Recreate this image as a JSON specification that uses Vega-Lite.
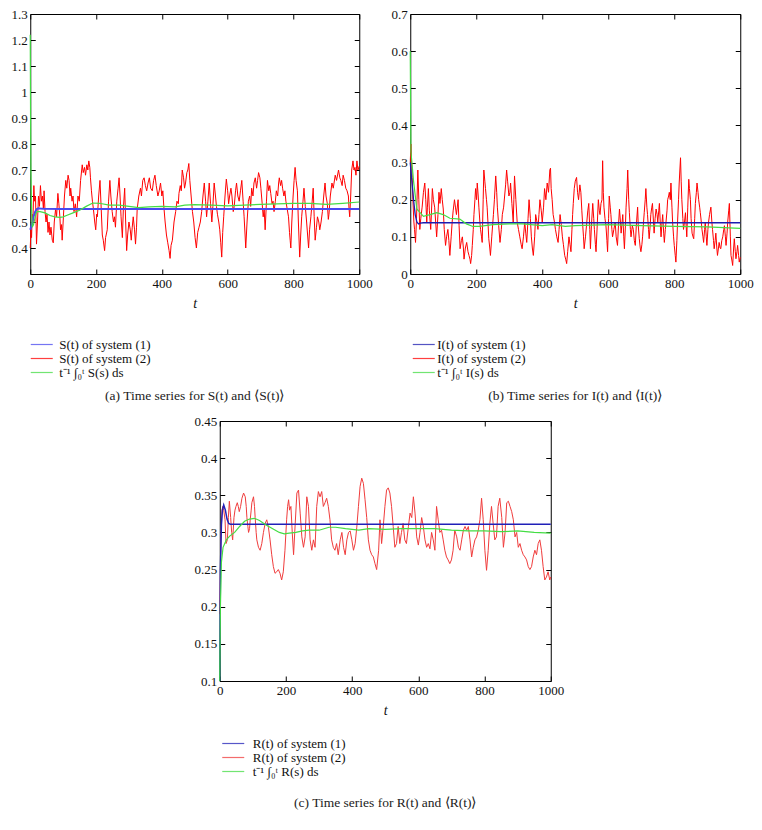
{
"$schema":"https://vega.github.io/schema/vega-lite/v6.json",
"padding":{"left":10,"top":7,"right":5,"bottom":5},
"config":{
"font":"Liberation Serif",
"view":{"stroke":"#000","strokeWidth":1},
"axis":{"domain":false,"grid":false,"tickSize":-5,"tickColor":"#000","tickWidth":1,"labelFont":"Liberation Serif","labelFontSize":13,"labelColor":"#111","labelPadding":8,"titleFont":"Liberation Serif","titleFontStyle":"italic","titleFontWeight":"normal","titleFontSize":14,"titleColor":"#111"},
"legend":{"orient":"none","title":null,"symbolType":"M-5.5,0H5.5","symbolSize":16,"symbolStrokeWidth":1.2,"symbolOpacity":0.75,"labelFont":"Liberation Serif","labelFontSize":13,"labelColor":"#111","labelOffset":11,"rowPadding":-2,"direction":"vertical"},
"title":{"orient":"bottom","anchor":"middle","frame":"group","font":"Liberation Serif","fontSize":13.5,"fontWeight":"normal","color":"#222","offset":9}
},
"datasets":{
"a":[
{"s":"2","t":0,"v":0.40},{"s":"2","t":2,"v":0.47},{"s":"2","t":4,"v":0.44},{"s":"2","t":6,"v":0.53},{"s":"2","t":8,"v":0.5},{"s":"2","t":11,"v":0.64},{"s":"2","t":13,"v":0.58},{"s":"2","t":16,"v":0.6},{"s":"2","t":19,"v":0.415},{"s":"2","t":22,"v":0.5},{"s":"2","t":25,"v":0.6},{"s":"2","t":28,"v":0.56},{"s":"2","t":31,"v":0.64},{"s":"2","t":34,"v":0.58},{"s":"2","t":37,"v":0.6},{"s":"2","t":40,"v":0.55},{"s":"2","t":42,"v":0.62},{"s":"2","t":45,"v":0.54},{"s":"2","t":48,"v":0.5},{"s":"2","t":51,"v":0.53},{"s":"2","t":54,"v":0.46},{"s":"2","t":57,"v":0.5},{"s":"2","t":60,"v":0.45},{"s":"2","t":63,"v":0.48},{"s":"2","t":67,"v":0.43},{"s":"2","t":70,"v":0.42},{"s":"2","t":73,"v":0.5},{"s":"2","t":77,"v":0.55},{"s":"2","t":80,"v":0.52},{"s":"2","t":84,"v":0.61},{"s":"2","t":87,"v":0.57},{"s":"2","t":90,"v":0.52},{"s":"2","t":92,"v":0.47},{"s":"2","t":95,"v":0.49},{"s":"2","t":97,"v":0.43},{"s":"2","t":100,"v":0.5},{"s":"2","t":104,"v":0.6},{"s":"2","t":108,"v":0.66},{"s":"2","t":111,"v":0.63},{"s":"2","t":115,"v":0.68},{"s":"2","t":118,"v":0.66},{"s":"2","t":121,"v":0.6},{"s":"2","t":123,"v":0.63},{"s":"2","t":127,"v":0.58},{"s":"2","t":130,"v":0.6},{"s":"2","t":133,"v":0.54},{"s":"2","t":137,"v":0.57},{"s":"2","t":141,"v":0.52},{"s":"2","t":145,"v":0.6},{"s":"2","t":149,"v":0.58},{"s":"2","t":153,"v":0.66},{"s":"2","t":158,"v":0.72},{"s":"2","t":161,"v":0.69},{"s":"2","t":165,"v":0.71},{"s":"2","t":168,"v":0.68},{"s":"2","t":172,"v":0.72},{"s":"2","t":175,"v":0.70},{"s":"2","t":178,"v":0.735},{"s":"2","t":181,"v":0.71},{"s":"2","t":183,"v":0.67},{"s":"2","t":186,"v":0.62},{"s":"2","t":189,"v":0.58},{"s":"2","t":192,"v":0.55},{"s":"2","t":196,"v":0.5},{"s":"2","t":199,"v":0.47},{"s":"2","t":202,"v":0.53},{"s":"2","t":204,"v":0.52},{"s":"2","t":208,"v":0.6},{"s":"2","t":212,"v":0.66},{"s":"2","t":215,"v":0.57},{"s":"2","t":219,"v":0.45},{"s":"2","t":222,"v":0.43},{"s":"2","t":226,"v":0.39},{"s":"2","t":229,"v":0.44},{"s":"2","t":234,"v":0.47},{"s":"2","t":238,"v":0.58},{"s":"2","t":242,"v":0.66},{"s":"2","t":245,"v":0.6},{"s":"2","t":249,"v":0.54},{"s":"2","t":253,"v":0.5},{"s":"2","t":256,"v":0.52},{"s":"2","t":259,"v":0.48},{"s":"2","t":263,"v":0.58},{"s":"2","t":267,"v":0.63},{"s":"2","t":270,"v":0.67},{"s":"2","t":273,"v":0.6},{"s":"2","t":276,"v":0.52},{"s":"2","t":280,"v":0.44},{"s":"2","t":283,"v":0.55},{"s":"2","t":287,"v":0.63},{"s":"2","t":290,"v":0.5},{"s":"2","t":293,"v":0.39},{"s":"2","t":296,"v":0.45},{"s":"2","t":300,"v":0.5},{"s":"2","t":304,"v":0.47},{"s":"2","t":307,"v":0.43},{"s":"2","t":310,"v":0.48},{"s":"2","t":313,"v":0.52},{"s":"2","t":317,"v":0.47},{"s":"2","t":320,"v":0.415},{"s":"2","t":323,"v":0.48},{"s":"2","t":325,"v":0.55},{"s":"2","t":330,"v":0.6},{"s":"2","t":335,"v":0.63},{"s":"2","t":338,"v":0.6},{"s":"2","t":342,"v":0.66},{"s":"2","t":346,"v":0.67},{"s":"2","t":350,"v":0.64},{"s":"2","t":354,"v":0.62},{"s":"2","t":358,"v":0.65},{"s":"2","t":362,"v":0.67},{"s":"2","t":366,"v":0.63},{"s":"2","t":371,"v":0.62},{"s":"2","t":375,"v":0.66},{"s":"2","t":379,"v":0.68},{"s":"2","t":383,"v":0.64},{"s":"2","t":388,"v":0.6},{"s":"2","t":392,"v":0.62},{"s":"2","t":396,"v":0.65},{"s":"2","t":400,"v":0.6},{"s":"2","t":403,"v":0.62},{"s":"2","t":406,"v":0.56},{"s":"2","t":410,"v":0.5},{"s":"2","t":414,"v":0.45},{"s":"2","t":418,"v":0.42},{"s":"2","t":422,"v":0.39},{"s":"2","t":425,"v":0.36},{"s":"2","t":428,"v":0.41},{"s":"2","t":432,"v":0.43},{"s":"2","t":437,"v":0.5},{"s":"2","t":442,"v":0.54},{"s":"2","t":446,"v":0.58},{"s":"2","t":450,"v":0.57},{"s":"2","t":452,"v":0.61},{"s":"2","t":456,"v":0.64},{"s":"2","t":459,"v":0.62},{"s":"2","t":462,"v":0.7},{"s":"2","t":466,"v":0.67},{"s":"2","t":469,"v":0.63},{"s":"2","t":472,"v":0.65},{"s":"2","t":476,"v":0.69},{"s":"2","t":479,"v":0.7},{"s":"2","t":482,"v":0.725},{"s":"2","t":485,"v":0.66},{"s":"2","t":489,"v":0.6},{"s":"2","t":493,"v":0.54},{"s":"2","t":497,"v":0.5},{"s":"2","t":501,"v":0.44},{"s":"2","t":505,"v":0.40},{"s":"2","t":509,"v":0.46},{"s":"2","t":513,"v":0.48},{"s":"2","t":517,"v":0.5},{"s":"2","t":521,"v":0.54},{"s":"2","t":525,"v":0.6},{"s":"2","t":529,"v":0.65},{"s":"2","t":533,"v":0.58},{"s":"2","t":536,"v":0.52},{"s":"2","t":540,"v":0.58},{"s":"2","t":544,"v":0.65},{"s":"2","t":548,"v":0.57},{"s":"2","t":552,"v":0.5},{"s":"2","t":555,"v":0.56},{"s":"2","t":559,"v":0.65},{"s":"2","t":563,"v":0.6},{"s":"2","t":566,"v":0.56},{"s":"2","t":569,"v":0.53},{"s":"2","t":573,"v":0.5},{"s":"2","t":576,"v":0.47},{"s":"2","t":579,"v":0.42},{"s":"2","t":582,"v":0.365},{"s":"2","t":585,"v":0.46},{"s":"2","t":588,"v":0.52},{"s":"2","t":592,"v":0.6},{"s":"2","t":596,"v":0.665},{"s":"2","t":600,"v":0.62},{"s":"2","t":603,"v":0.57},{"s":"2","t":606,"v":0.6},{"s":"2","t":610,"v":0.63},{"s":"2","t":613,"v":0.6},{"s":"2","t":617,"v":0.54},{"s":"2","t":620,"v":0.56},{"s":"2","t":624,"v":0.62},{"s":"2","t":627,"v":0.65},{"s":"2","t":631,"v":0.6},{"s":"2","t":635,"v":0.58},{"s":"2","t":639,"v":0.62},{"s":"2","t":643,"v":0.66},{"s":"2","t":647,"v":0.58},{"s":"2","t":650,"v":0.52},{"s":"2","t":653,"v":0.45},{"s":"2","t":655,"v":0.40},{"s":"2","t":659,"v":0.5},{"s":"2","t":663,"v":0.58},{"s":"2","t":667,"v":0.6},{"s":"2","t":670,"v":0.56},{"s":"2","t":673,"v":0.63},{"s":"2","t":677,"v":0.6},{"s":"2","t":680,"v":0.65},{"s":"2","t":684,"v":0.67},{"s":"2","t":688,"v":0.63},{"s":"2","t":691,"v":0.66},{"s":"2","t":694,"v":0.69},{"s":"2","t":698,"v":0.67},{"s":"2","t":701,"v":0.63},{"s":"2","t":705,"v":0.57},{"s":"2","t":708,"v":0.52},{"s":"2","t":711,"v":0.55},{"s":"2","t":714,"v":0.47},{"s":"2","t":718,"v":0.58},{"s":"2","t":721,"v":0.66},{"s":"2","t":725,"v":0.62},{"s":"2","t":728,"v":0.64},{"s":"2","t":731,"v":0.61},{"s":"2","t":735,"v":0.57},{"s":"2","t":738,"v":0.58},{"s":"2","t":741,"v":0.54},{"s":"2","t":745,"v":0.58},{"s":"2","t":748,"v":0.62},{"s":"2","t":752,"v":0.6},{"s":"2","t":755,"v":0.65},{"s":"2","t":757,"v":0.67},{"s":"2","t":761,"v":0.64},{"s":"2","t":764,"v":0.66},{"s":"2","t":767,"v":0.63},{"s":"2","t":771,"v":0.6},{"s":"2","t":774,"v":0.62},{"s":"2","t":777,"v":0.58},{"s":"2","t":781,"v":0.55},{"s":"2","t":785,"v":0.52},{"s":"2","t":788,"v":0.46},{"s":"2","t":790,"v":0.43},{"s":"2","t":792,"v":0.40},{"s":"2","t":795,"v":0.5},{"s":"2","t":799,"v":0.6},{"s":"2","t":802,"v":0.66},{"s":"2","t":805,"v":0.71},{"s":"2","t":808,"v":0.66},{"s":"2","t":812,"v":0.62},{"s":"2","t":815,"v":0.5},{"s":"2","t":819,"v":0.365},{"s":"2","t":822,"v":0.45},{"s":"2","t":825,"v":0.52},{"s":"2","t":829,"v":0.58},{"s":"2","t":832,"v":0.63},{"s":"2","t":836,"v":0.56},{"s":"2","t":840,"v":0.5},{"s":"2","t":843,"v":0.45},{"s":"2","t":846,"v":0.40},{"s":"2","t":849,"v":0.47},{"s":"2","t":853,"v":0.52},{"s":"2","t":857,"v":0.58},{"s":"2","t":860,"v":0.63},{"s":"2","t":863,"v":0.52},{"s":"2","t":866,"v":0.43},{"s":"2","t":870,"v":0.48},{"s":"2","t":873,"v":0.52},{"s":"2","t":877,"v":0.5},{"s":"2","t":880,"v":0.47},{"s":"2","t":884,"v":0.5},{"s":"2","t":888,"v":0.54},{"s":"2","t":892,"v":0.6},{"s":"2","t":896,"v":0.65},{"s":"2","t":899,"v":0.6},{"s":"2","t":903,"v":0.57},{"s":"2","t":906,"v":0.51},{"s":"2","t":908,"v":0.53},{"s":"2","t":912,"v":0.6},{"s":"2","t":917,"v":0.65},{"s":"2","t":921,"v":0.63},{"s":"2","t":927,"v":0.68},{"s":"2","t":931,"v":0.66},{"s":"2","t":937,"v":0.70},{"s":"2","t":941,"v":0.67},{"s":"2","t":944,"v":0.66},{"s":"2","t":948,"v":0.64},{"s":"2","t":951,"v":0.68},{"s":"2","t":955,"v":0.66},{"s":"2","t":959,"v":0.63},{"s":"2","t":963,"v":0.62},{"s":"2","t":967,"v":0.6},{"s":"2","t":969,"v":0.55},{"s":"2","t":971,"v":0.52},{"s":"2","t":974,"v":0.6},{"s":"2","t":977,"v":0.7},{"s":"2","t":981,"v":0.735},{"s":"2","t":984,"v":0.7},{"s":"2","t":987,"v":0.71},{"s":"2","t":990,"v":0.68},{"s":"2","t":993,"v":0.735},{"s":"2","t":996,"v":0.7},{"s":"2","t":1000,"v":0.715},
{"s":"1","t":0,"v":0.47},{"s":"1","t":5,"v":0.49},{"s":"1","t":10,"v":0.52},{"s":"1","t":15,"v":0.54},{"s":"1","t":20,"v":0.55},{"s":"1","t":25,"v":0.553},{"s":"1","t":30,"v":0.552},{"s":"1","t":40,"v":0.551},{"s":"1","t":100,"v":0.55},{"s":"1","t":1000,"v":0.55},
{"s":"m","t":0,"v":1.22},{"s":"m","t":1,"v":0.9},{"s":"m","t":2,"v":0.7},{"s":"m","t":4,"v":0.55},{"s":"m","t":6,"v":0.48},{"s":"m","t":10,"v":0.49},{"s":"m","t":15,"v":0.52},{"s":"m","t":20,"v":0.54},{"s":"m","t":30,"v":0.54},{"s":"m","t":45,"v":0.535},{"s":"m","t":60,"v":0.525},{"s":"m","t":75,"v":0.52},{"s":"m","t":90,"v":0.518},{"s":"m","t":100,"v":0.52},{"s":"m","t":110,"v":0.525},{"s":"m","t":130,"v":0.535},{"s":"m","t":150,"v":0.545},{"s":"m","t":170,"v":0.56},{"s":"m","t":190,"v":0.573},{"s":"m","t":210,"v":0.572},{"s":"m","t":240,"v":0.565},{"s":"m","t":270,"v":0.565},{"s":"m","t":300,"v":0.56},{"s":"m","t":330,"v":0.555},{"s":"m","t":360,"v":0.558},{"s":"m","t":400,"v":0.56},{"s":"m","t":440,"v":0.558},{"s":"m","t":470,"v":0.565},{"s":"m","t":500,"v":0.567},{"s":"m","t":550,"v":0.565},{"s":"m","t":600,"v":0.562},{"s":"m","t":650,"v":0.565},{"s":"m","t":700,"v":0.568},{"s":"m","t":750,"v":0.57},{"s":"m","t":800,"v":0.572},{"s":"m","t":850,"v":0.572},{"s":"m","t":900,"v":0.568},{"s":"m","t":950,"v":0.572},{"s":"m","t":1000,"v":0.577}
],
"b":[
{"s":"2","t":0,"v":0.30},{"s":"2","t":2,"v":0.35},{"s":"2","t":4,"v":0.3},{"s":"2","t":6,"v":0.26},{"s":"2","t":8,"v":0.2},{"s":"2","t":11,"v":0.14},{"s":"2","t":13,"v":0.12},{"s":"2","t":16,"v":0.085},{"s":"2","t":19,"v":0.15},{"s":"2","t":23,"v":0.28},{"s":"2","t":26,"v":0.2},{"s":"2","t":29,"v":0.12},{"s":"2","t":32,"v":0.15},{"s":"2","t":36,"v":0.18},{"s":"2","t":40,"v":0.22},{"s":"2","t":44,"v":0.245},{"s":"2","t":47,"v":0.2},{"s":"2","t":50,"v":0.14},{"s":"2","t":52,"v":0.18},{"s":"2","t":55,"v":0.23},{"s":"2","t":58,"v":0.17},{"s":"2","t":62,"v":0.12},{"s":"2","t":64,"v":0.16},{"s":"2","t":67,"v":0.23},{"s":"2","t":70,"v":0.2},{"s":"2","t":74,"v":0.18},{"s":"2","t":77,"v":0.14},{"s":"2","t":80,"v":0.1},{"s":"2","t":84,"v":0.16},{"s":"2","t":87,"v":0.22},{"s":"2","t":90,"v":0.19},{"s":"2","t":94,"v":0.23},{"s":"2","t":97,"v":0.2},{"s":"2","t":100,"v":0.175},{"s":"2","t":103,"v":0.12},{"s":"2","t":107,"v":0.077},{"s":"2","t":110,"v":0.1},{"s":"2","t":114,"v":0.12},{"s":"2","t":117,"v":0.09},{"s":"2","t":120,"v":0.05},{"s":"2","t":124,"v":0.1},{"s":"2","t":127,"v":0.14},{"s":"2","t":130,"v":0.17},{"s":"2","t":134,"v":0.2},{"s":"2","t":137,"v":0.18},{"s":"2","t":140,"v":0.16},{"s":"2","t":145,"v":0.2},{"s":"2","t":148,"v":0.13},{"s":"2","t":151,"v":0.068},{"s":"2","t":155,"v":0.09},{"s":"2","t":158,"v":0.1},{"s":"2","t":161,"v":0.07},{"s":"2","t":163,"v":0.04},{"s":"2","t":167,"v":0.07},{"s":"2","t":171,"v":0.085},{"s":"2","t":175,"v":0.06},{"s":"2","t":178,"v":0.05},{"s":"2","t":181,"v":0.04},{"s":"2","t":183,"v":0.028},{"s":"2","t":186,"v":0.05},{"s":"2","t":188,"v":0.077},{"s":"2","t":191,"v":0.12},{"s":"2","t":193,"v":0.16},{"s":"2","t":196,"v":0.2},{"s":"2","t":198,"v":0.23},{"s":"2","t":201,"v":0.2},{"s":"2","t":203,"v":0.245},{"s":"2","t":206,"v":0.21},{"s":"2","t":208,"v":0.18},{"s":"2","t":211,"v":0.14},{"s":"2","t":213,"v":0.12},{"s":"2","t":216,"v":0.1},{"s":"2","t":218,"v":0.085},{"s":"2","t":221,"v":0.2},{"s":"2","t":223,"v":0.28},{"s":"2","t":226,"v":0.25},{"s":"2","t":228,"v":0.23},{"s":"2","t":231,"v":0.2},{"s":"2","t":233,"v":0.18},{"s":"2","t":236,"v":0.13},{"s":"2","t":238,"v":0.095},{"s":"2","t":241,"v":0.07},{"s":"2","t":243,"v":0.05},{"s":"2","t":247,"v":0.1},{"s":"2","t":252,"v":0.16},{"s":"2","t":255,"v":0.2},{"s":"2","t":259,"v":0.264},{"s":"2","t":262,"v":0.22},{"s":"2","t":264,"v":0.18},{"s":"2","t":268,"v":0.13},{"s":"2","t":272,"v":0.085},{"s":"2","t":276,"v":0.12},{"s":"2","t":279,"v":0.16},{"s":"2","t":283,"v":0.18},{"s":"2","t":286,"v":0.21},{"s":"2","t":289,"v":0.24},{"s":"2","t":292,"v":0.28},{"s":"2","t":295,"v":0.25},{"s":"2","t":299,"v":0.21},{"s":"2","t":302,"v":0.22},{"s":"2","t":304,"v":0.245},{"s":"2","t":308,"v":0.19},{"s":"2","t":312,"v":0.14},{"s":"2","t":314,"v":0.2},{"s":"2","t":316,"v":0.264},{"s":"2","t":320,"v":0.2},{"s":"2","t":324,"v":0.14},{"s":"2","t":328,"v":0.12},{"s":"2","t":332,"v":0.1},{"s":"2","t":336,"v":0.08},{"s":"2","t":339,"v":0.068},{"s":"2","t":343,"v":0.1},{"s":"2","t":347,"v":0.14},{"s":"2","t":350,"v":0.11},{"s":"2","t":353,"v":0.085},{"s":"2","t":357,"v":0.15},{"s":"2","t":360,"v":0.2},{"s":"2","t":364,"v":0.15},{"s":"2","t":367,"v":0.1},{"s":"2","t":370,"v":0.07},{"s":"2","t":373,"v":0.05},{"s":"2","t":377,"v":0.1},{"s":"2","t":380,"v":0.16},{"s":"2","t":384,"v":0.14},{"s":"2","t":387,"v":0.12},{"s":"2","t":390,"v":0.16},{"s":"2","t":393,"v":0.2},{"s":"2","t":397,"v":0.17},{"s":"2","t":400,"v":0.14},{"s":"2","t":404,"v":0.18},{"s":"2","t":407,"v":0.23},{"s":"2","t":411,"v":0.2},{"s":"2","t":415,"v":0.245},{"s":"2","t":419,"v":0.22},{"s":"2","t":423,"v":0.28},{"s":"2","t":425,"v":0.285},{"s":"2","t":427,"v":0.23},{"s":"2","t":430,"v":0.2},{"s":"2","t":433,"v":0.16},{"s":"2","t":437,"v":0.14},{"s":"2","t":440,"v":0.12},{"s":"2","t":444,"v":0.1},{"s":"2","t":448,"v":0.085},{"s":"2","t":451,"v":0.12},{"s":"2","t":454,"v":0.16},{"s":"2","t":458,"v":0.13},{"s":"2","t":461,"v":0.1},{"s":"2","t":464,"v":0.08},{"s":"2","t":468,"v":0.05},{"s":"2","t":471,"v":0.04},{"s":"2","t":474,"v":0.028},{"s":"2","t":477,"v":0.06},{"s":"2","t":481,"v":0.1},{"s":"2","t":484,"v":0.08},{"s":"2","t":487,"v":0.06},{"s":"2","t":490,"v":0.12},{"s":"2","t":492,"v":0.16},{"s":"2","t":494,"v":0.19},{"s":"2","t":497,"v":0.23},{"s":"2","t":500,"v":0.25},{"s":"2","t":504,"v":0.26},{"s":"2","t":507,"v":0.22},{"s":"2","t":510,"v":0.2},{"s":"2","t":514,"v":0.24},{"s":"2","t":517,"v":0.22},{"s":"2","t":520,"v":0.17},{"s":"2","t":522,"v":0.14},{"s":"2","t":525,"v":0.1},{"s":"2","t":527,"v":0.068},{"s":"2","t":531,"v":0.1},{"s":"2","t":535,"v":0.14},{"s":"2","t":538,"v":0.17},{"s":"2","t":541,"v":0.19},{"s":"2","t":544,"v":0.12},{"s":"2","t":546,"v":0.068},{"s":"2","t":549,"v":0.13},{"s":"2","t":553,"v":0.19},{"s":"2","t":556,"v":0.15},{"s":"2","t":558,"v":0.12},{"s":"2","t":561,"v":0.08},{"s":"2","t":563,"v":0.06},{"s":"2","t":567,"v":0.14},{"s":"2","t":570,"v":0.2},{"s":"2","t":573,"v":0.17},{"s":"2","t":575,"v":0.16},{"s":"2","t":578,"v":0.19},{"s":"2","t":581,"v":0.2},{"s":"2","t":583,"v":0.305},{"s":"2","t":585,"v":0.22},{"s":"2","t":587,"v":0.18},{"s":"2","t":590,"v":0.15},{"s":"2","t":593,"v":0.13},{"s":"2","t":596,"v":0.09},{"s":"2","t":598,"v":0.06},{"s":"2","t":601,"v":0.15},{"s":"2","t":603,"v":0.21},{"s":"2","t":606,"v":0.18},{"s":"2","t":608,"v":0.16},{"s":"2","t":611,"v":0.12},{"s":"2","t":613,"v":0.1},{"s":"2","t":617,"v":0.12},{"s":"2","t":621,"v":0.14},{"s":"2","t":624,"v":0.1},{"s":"2","t":628,"v":0.077},{"s":"2","t":631,"v":0.13},{"s":"2","t":634,"v":0.175},{"s":"2","t":637,"v":0.14},{"s":"2","t":639,"v":0.11},{"s":"2","t":642,"v":0.14},{"s":"2","t":644,"v":0.16},{"s":"2","t":647,"v":0.1},{"s":"2","t":649,"v":0.068},{"s":"2","t":652,"v":0.13},{"s":"2","t":654,"v":0.18},{"s":"2","t":657,"v":0.23},{"s":"2","t":659,"v":0.28},{"s":"2","t":662,"v":0.2},{"s":"2","t":664,"v":0.165},{"s":"2","t":667,"v":0.12},{"s":"2","t":669,"v":0.1},{"s":"2","t":673,"v":0.13},{"s":"2","t":676,"v":0.12},{"s":"2","t":679,"v":0.09},{"s":"2","t":682,"v":0.077},{"s":"2","t":685,"v":0.13},{"s":"2","t":689,"v":0.18},{"s":"2","t":691,"v":0.13},{"s":"2","t":694,"v":0.095},{"s":"2","t":697,"v":0.07},{"s":"2","t":699,"v":0.06},{"s":"2","t":702,"v":0.08},{"s":"2","t":704,"v":0.1},{"s":"2","t":707,"v":0.14},{"s":"2","t":709,"v":0.165},{"s":"2","t":712,"v":0.2},{"s":"2","t":714,"v":0.23},{"s":"2","t":717,"v":0.18},{"s":"2","t":719,"v":0.16},{"s":"2","t":722,"v":0.12},{"s":"2","t":724,"v":0.095},{"s":"2","t":727,"v":0.13},{"s":"2","t":729,"v":0.16},{"s":"2","t":732,"v":0.18},{"s":"2","t":734,"v":0.19},{"s":"2","t":737,"v":0.14},{"s":"2","t":739,"v":0.11},{"s":"2","t":742,"v":0.15},{"s":"2","t":745,"v":0.175},{"s":"2","t":748,"v":0.16},{"s":"2","t":750,"v":0.14},{"s":"2","t":753,"v":0.17},{"s":"2","t":755,"v":0.19},{"s":"2","t":758,"v":0.13},{"s":"2","t":760,"v":0.1},{"s":"2","t":763,"v":0.14},{"s":"2","t":765,"v":0.16},{"s":"2","t":768,"v":0.11},{"s":"2","t":770,"v":0.085},{"s":"2","t":773,"v":0.12},{"s":"2","t":775,"v":0.14},{"s":"2","t":778,"v":0.17},{"s":"2","t":780,"v":0.2},{"s":"2","t":783,"v":0.21},{"s":"2","t":785,"v":0.22},{"s":"2","t":788,"v":0.2},{"s":"2","t":790,"v":0.245},{"s":"2","t":793,"v":0.18},{"s":"2","t":795,"v":0.14},{"s":"2","t":798,"v":0.1},{"s":"2","t":800,"v":0.077},{"s":"2","t":803,"v":0.05},{"s":"2","t":805,"v":0.032},{"s":"2","t":808,"v":0.09},{"s":"2","t":810,"v":0.14},{"s":"2","t":813,"v":0.2},{"s":"2","t":815,"v":0.245},{"s":"2","t":817,"v":0.28},{"s":"2","t":819,"v":0.313},{"s":"2","t":821,"v":0.25},{"s":"2","t":823,"v":0.2},{"s":"2","t":826,"v":0.15},{"s":"2","t":828,"v":0.12},{"s":"2","t":831,"v":0.14},{"s":"2","t":834,"v":0.165},{"s":"2","t":836,"v":0.13},{"s":"2","t":838,"v":0.1},{"s":"2","t":841,"v":0.18},{"s":"2","t":844,"v":0.255},{"s":"2","t":846,"v":0.23},{"s":"2","t":849,"v":0.2},{"s":"2","t":851,"v":0.15},{"s":"2","t":854,"v":0.11},{"s":"2","t":857,"v":0.1},{"s":"2","t":859,"v":0.095},{"s":"2","t":862,"v":0.15},{"s":"2","t":864,"v":0.19},{"s":"2","t":867,"v":0.22},{"s":"2","t":869,"v":0.245},{"s":"2","t":872,"v":0.22},{"s":"2","t":874,"v":0.2},{"s":"2","t":877,"v":0.18},{"s":"2","t":879,"v":0.165},{"s":"2","t":882,"v":0.14},{"s":"2","t":884,"v":0.12},{"s":"2","t":887,"v":0.1},{"s":"2","t":889,"v":0.085},{"s":"2","t":892,"v":0.12},{"s":"2","t":894,"v":0.14},{"s":"2","t":897,"v":0.1},{"s":"2","t":899,"v":0.077},{"s":"2","t":902,"v":0.12},{"s":"2","t":904,"v":0.14},{"s":"2","t":907,"v":0.16},{"s":"2","t":911,"v":0.18},{"s":"2","t":914,"v":0.14},{"s":"2","t":916,"v":0.12},{"s":"2","t":919,"v":0.09},{"s":"2","t":921,"v":0.068},{"s":"2","t":924,"v":0.09},{"s":"2","t":926,"v":0.11},{"s":"2","t":929,"v":0.07},{"s":"2","t":931,"v":0.05},{"s":"2","t":934,"v":0.07},{"s":"2","t":936,"v":0.085},{"s":"2","t":939,"v":0.07},{"s":"2","t":941,"v":0.068},{"s":"2","t":944,"v":0.09},{"s":"2","t":947,"v":0.1},{"s":"2","t":950,"v":0.12},{"s":"2","t":952,"v":0.13},{"s":"2","t":955,"v":0.1},{"s":"2","t":957,"v":0.077},{"s":"2","t":960,"v":0.11},{"s":"2","t":962,"v":0.14},{"s":"2","t":965,"v":0.17},{"s":"2","t":967,"v":0.19},{"s":"2","t":970,"v":0.1},{"s":"2","t":972,"v":0.05},{"s":"2","t":975,"v":0.035},{"s":"2","t":977,"v":0.023},{"s":"2","t":980,"v":0.07},{"s":"2","t":982,"v":0.095},{"s":"2","t":985,"v":0.06},{"s":"2","t":987,"v":0.041},{"s":"2","t":990,"v":0.06},{"s":"2","t":992,"v":0.077},{"s":"2","t":995,"v":0.05},{"s":"2","t":997,"v":0.032},{"s":"2","t":1000,"v":0.045},
{"s":"1","t":0,"v":0.3},{"s":"1","t":5,"v":0.25},{"s":"1","t":10,"v":0.2},{"s":"1","t":15,"v":0.16},{"s":"1","t":20,"v":0.14},{"s":"1","t":25,"v":0.135},{"s":"1","t":30,"v":0.137},{"s":"1","t":40,"v":0.138},{"s":"1","t":1000,"v":0.138},
{"s":"m","t":0,"v":0.6},{"s":"m","t":2,"v":0.33},{"s":"m","t":10,"v":0.25},{"s":"m","t":20,"v":0.175},{"s":"m","t":30,"v":0.165},{"s":"m","t":40,"v":0.155},{"s":"m","t":60,"v":0.16},{"s":"m","t":80,"v":0.165},{"s":"m","t":100,"v":0.16},{"s":"m","t":120,"v":0.15},{"s":"m","t":150,"v":0.148},{"s":"m","t":170,"v":0.135},{"s":"m","t":190,"v":0.128},{"s":"m","t":210,"v":0.128},{"s":"m","t":250,"v":0.133},{"s":"m","t":300,"v":0.135},{"s":"m","t":340,"v":0.135},{"s":"m","t":400,"v":0.13},{"s":"m","t":430,"v":0.133},{"s":"m","t":470,"v":0.128},{"s":"m","t":500,"v":0.13},{"s":"m","t":600,"v":0.133},{"s":"m","t":700,"v":0.13},{"s":"m","t":800,"v":0.128},{"s":"m","t":900,"v":0.127},{"s":"m","t":950,"v":0.125},{"s":"m","t":1000,"v":0.123}
],
"c":[
{"s":"2","t":0,"v":0.19},{"s":"2","t":2,"v":0.25},{"s":"2","t":4,"v":0.3},{"s":"2","t":7,"v":0.33},{"s":"2","t":9,"v":0.335},{"s":"2","t":12,"v":0.33},{"s":"2","t":16,"v":0.317},{"s":"2","t":19,"v":0.285},{"s":"2","t":23,"v":0.29},{"s":"2","t":26,"v":0.32},{"s":"2","t":29,"v":0.342},{"s":"2","t":33,"v":0.32},{"s":"2","t":36,"v":0.3},{"s":"2","t":39,"v":0.29},{"s":"2","t":43,"v":0.32},{"s":"2","t":46,"v":0.33},{"s":"2","t":49,"v":0.335},{"s":"2","t":53,"v":0.34},{"s":"2","t":56,"v":0.335},{"s":"2","t":59,"v":0.328},{"s":"2","t":63,"v":0.335},{"s":"2","t":67,"v":0.346},{"s":"2","t":72,"v":0.353},{"s":"2","t":77,"v":0.348},{"s":"2","t":80,"v":0.335},{"s":"2","t":82,"v":0.32},{"s":"2","t":85,"v":0.308},{"s":"2","t":87,"v":0.30},{"s":"2","t":90,"v":0.305},{"s":"2","t":92,"v":0.317},{"s":"2","t":95,"v":0.33},{"s":"2","t":97,"v":0.34},{"s":"2","t":102,"v":0.348},{"s":"2","t":105,"v":0.335},{"s":"2","t":107,"v":0.32},{"s":"2","t":110,"v":0.3},{"s":"2","t":112,"v":0.29},{"s":"2","t":117,"v":0.28},{"s":"2","t":122,"v":0.276},{"s":"2","t":127,"v":0.285},{"s":"2","t":132,"v":0.30},{"s":"2","t":137,"v":0.312},{"s":"2","t":142,"v":0.317},{"s":"2","t":147,"v":0.307},{"s":"2","t":152,"v":0.29},{"s":"2","t":157,"v":0.27},{"s":"2","t":162,"v":0.254},{"s":"2","t":167,"v":0.245},{"s":"2","t":172,"v":0.247},{"s":"2","t":177,"v":0.25},{"s":"2","t":182,"v":0.245},{"s":"2","t":187,"v":0.236},{"s":"2","t":192,"v":0.247},{"s":"2","t":197,"v":0.276},{"s":"2","t":202,"v":0.317},{"s":"2","t":205,"v":0.335},{"s":"2","t":208,"v":0.344},{"s":"2","t":211,"v":0.33},{"s":"2","t":215,"v":0.335},{"s":"2","t":219,"v":0.30},{"s":"2","t":223,"v":0.27},{"s":"2","t":228,"v":0.312},{"s":"2","t":233,"v":0.353},{"s":"2","t":238,"v":0.357},{"s":"2","t":243,"v":0.326},{"s":"2","t":248,"v":0.294},{"s":"2","t":253,"v":0.28},{"s":"2","t":258,"v":0.294},{"s":"2","t":263,"v":0.348},{"s":"2","t":268,"v":0.335},{"s":"2","t":273,"v":0.29},{"s":"2","t":278,"v":0.276},{"s":"2","t":283,"v":0.29},{"s":"2","t":288,"v":0.28},{"s":"2","t":293,"v":0.335},{"s":"2","t":298,"v":0.355},{"s":"2","t":303,"v":0.348},{"s":"2","t":308,"v":0.355},{"s":"2","t":313,"v":0.335},{"s":"2","t":318,"v":0.34},{"s":"2","t":323,"v":0.346},{"s":"2","t":328,"v":0.335},{"s":"2","t":333,"v":0.317},{"s":"2","t":338,"v":0.29},{"s":"2","t":343,"v":0.28},{"s":"2","t":348,"v":0.276},{"s":"2","t":353,"v":0.285},{"s":"2","t":358,"v":0.27},{"s":"2","t":364,"v":0.29},{"s":"2","t":369,"v":0.30},{"s":"2","t":374,"v":0.28},{"s":"2","t":379,"v":0.27},{"s":"2","t":384,"v":0.29},{"s":"2","t":389,"v":0.30},{"s":"2","t":394,"v":0.302},{"s":"2","t":399,"v":0.29},{"s":"2","t":404,"v":0.276},{"s":"2","t":409,"v":0.285},{"s":"2","t":414,"v":0.307},{"s":"2","t":419,"v":0.335},{"s":"2","t":424,"v":0.362},{"s":"2","t":429,"v":0.373},{"s":"2","t":434,"v":0.366},{"s":"2","t":439,"v":0.344},{"s":"2","t":444,"v":0.32},{"s":"2","t":449,"v":0.29},{"s":"2","t":454,"v":0.276},{"s":"2","t":459,"v":0.27},{"s":"2","t":464,"v":0.267},{"s":"2","t":469,"v":0.258},{"s":"2","t":474,"v":0.25},{"s":"2","t":480,"v":0.276},{"s":"2","t":484,"v":0.317},{"s":"2","t":487,"v":0.3},{"s":"2","t":489,"v":0.285},{"s":"2","t":494,"v":0.308},{"s":"2","t":499,"v":0.335},{"s":"2","t":504,"v":0.357},{"s":"2","t":509,"v":0.36},{"s":"2","t":514,"v":0.353},{"s":"2","t":519,"v":0.335},{"s":"2","t":524,"v":0.308},{"s":"2","t":529,"v":0.28},{"s":"2","t":534,"v":0.285},{"s":"2","t":539,"v":0.308},{"s":"2","t":544,"v":0.285},{"s":"2","t":549,"v":0.30},{"s":"2","t":554,"v":0.312},{"s":"2","t":559,"v":0.29},{"s":"2","t":564,"v":0.285},{"s":"2","t":570,"v":0.308},{"s":"2","t":575,"v":0.326},{"s":"2","t":580,"v":0.32},{"s":"2","t":585,"v":0.348},{"s":"2","t":590,"v":0.326},{"s":"2","t":595,"v":0.294},{"s":"2","t":600,"v":0.283},{"s":"2","t":605,"v":0.30},{"s":"2","t":610,"v":0.32},{"s":"2","t":615,"v":0.308},{"s":"2","t":620,"v":0.29},{"s":"2","t":625,"v":0.28},{"s":"2","t":630,"v":0.285},{"s":"2","t":635,"v":0.278},{"s":"2","t":640,"v":0.30},{"s":"2","t":645,"v":0.29},{"s":"2","t":650,"v":0.276},{"s":"2","t":655,"v":0.335},{"s":"2","t":660,"v":0.317},{"s":"2","t":665,"v":0.30},{"s":"2","t":670,"v":0.303},{"s":"2","t":675,"v":0.29},{"s":"2","t":680,"v":0.276},{"s":"2","t":685,"v":0.267},{"s":"2","t":690,"v":0.263},{"s":"2","t":695,"v":0.258},{"s":"2","t":700,"v":0.263},{"s":"2","t":705,"v":0.276},{"s":"2","t":710,"v":0.303},{"s":"2","t":716,"v":0.294},{"s":"2","t":721,"v":0.28},{"s":"2","t":726,"v":0.276},{"s":"2","t":731,"v":0.29},{"s":"2","t":736,"v":0.303},{"s":"2","t":741,"v":0.308},{"s":"2","t":746,"v":0.303},{"s":"2","t":751,"v":0.308},{"s":"2","t":756,"v":0.29},{"s":"2","t":761,"v":0.267},{"s":"2","t":766,"v":0.28},{"s":"2","t":771,"v":0.29},{"s":"2","t":776,"v":0.294},{"s":"2","t":781,"v":0.303},{"s":"2","t":786,"v":0.317},{"s":"2","t":791,"v":0.346},{"s":"2","t":796,"v":0.317},{"s":"2","t":801,"v":0.276},{"s":"2","t":806,"v":0.249},{"s":"2","t":811,"v":0.276},{"s":"2","t":816,"v":0.312},{"s":"2","t":821,"v":0.335},{"s":"2","t":826,"v":0.312},{"s":"2","t":831,"v":0.29},{"s":"2","t":836,"v":0.294},{"s":"2","t":841,"v":0.335},{"s":"2","t":846,"v":0.346},{"s":"2","t":852,"v":0.32},{"s":"2","t":857,"v":0.28},{"s":"2","t":862,"v":0.30},{"s":"2","t":867,"v":0.34},{"s":"2","t":872,"v":0.342},{"s":"2","t":877,"v":0.335},{"s":"2","t":882,"v":0.328},{"s":"2","t":887,"v":0.317},{"s":"2","t":892,"v":0.294},{"s":"2","t":897,"v":0.30},{"s":"2","t":902,"v":0.28},{"s":"2","t":907,"v":0.285},{"s":"2","t":912,"v":0.276},{"s":"2","t":917,"v":0.27},{"s":"2","t":922,"v":0.267},{"s":"2","t":927,"v":0.263},{"s":"2","t":932,"v":0.254},{"s":"2","t":937,"v":0.25},{"s":"2","t":942,"v":0.254},{"s":"2","t":947,"v":0.267},{"s":"2","t":952,"v":0.276},{"s":"2","t":957,"v":0.27},{"s":"2","t":962,"v":0.285},{"s":"2","t":967,"v":0.29},{"s":"2","t":972,"v":0.276},{"s":"2","t":977,"v":0.254},{"s":"2","t":982,"v":0.236},{"s":"2","t":987,"v":0.24},{"s":"2","t":992,"v":0.247},{"s":"2","t":997,"v":0.236},{"s":"2","t":1000,"v":0.24},
{"s":"1","t":0,"v":0.1},{"s":"1","t":2,"v":0.25},{"s":"1","t":5,"v":0.31},{"s":"1","t":8,"v":0.33},{"s":"1","t":12,"v":0.337},{"s":"1","t":17,"v":0.33},{"s":"1","t":22,"v":0.318},{"s":"1","t":27,"v":0.312},{"s":"1","t":32,"v":0.311},{"s":"1","t":1000,"v":0.311},
{"s":"m","t":0,"v":0.1},{"s":"m","t":2,"v":0.2},{"s":"m","t":5,"v":0.26},{"s":"m","t":10,"v":0.28},{"s":"m","t":20,"v":0.29},{"s":"m","t":30,"v":0.295},{"s":"m","t":45,"v":0.30},{"s":"m","t":60,"v":0.308},{"s":"m","t":75,"v":0.315},{"s":"m","t":90,"v":0.318},{"s":"m","t":105,"v":0.319},{"s":"m","t":120,"v":0.316},{"s":"m","t":140,"v":0.31},{"s":"m","t":160,"v":0.305},{"s":"m","t":180,"v":0.3},{"s":"m","t":195,"v":0.298},{"s":"m","t":210,"v":0.299},{"s":"m","t":230,"v":0.3},{"s":"m","t":250,"v":0.302},{"s":"m","t":270,"v":0.303},{"s":"m","t":300,"v":0.303},{"s":"m","t":330,"v":0.307},{"s":"m","t":350,"v":0.307},{"s":"m","t":380,"v":0.305},{"s":"m","t":420,"v":0.303},{"s":"m","t":450,"v":0.305},{"s":"m","t":500,"v":0.304},{"s":"m","t":550,"v":0.305},{"s":"m","t":600,"v":0.305},{"s":"m","t":650,"v":0.305},{"s":"m","t":700,"v":0.303},{"s":"m","t":750,"v":0.302},{"s":"m","t":800,"v":0.302},{"s":"m","t":850,"v":0.301},{"s":"m","t":900,"v":0.302},{"s":"m","t":950,"v":0.30},{"s":"m","t":1000,"v":0.299}
]
},
"spacing":11,
"center":true,
"resolve":{"scale":{"color":"independent"},"legend":{"color":"independent"}},
"vconcat":[
{"hconcat":[
{"width":329,"height":260,"data":{"name":"a"},
"title":{"text":"(a)  Time series for S(t) and ⟨S(t)⟩"},
"encoding":{"color":{"field":"s","type":"nominal","scale":{"domain":["1","2","m"],"range":["#4848f0","#ff0000","#44dd44"]},
"legend":{"legendX":5,"legendY":324,"labelOffset":11,"labelExpr":"datum.label=='1'?'S(t) of system (1)':datum.label=='2'?'S(t) of system (2)':'t⁻¹ ∫₀ᵗ S(s) ds'"}}},
"layer":[
{"transform":[{"filter":"datum.s=='2'"}],"mark":{"type":"line","strokeWidth":1},
"encoding":{"x":{"field":"t","type":"quantitative","scale":{"domain":[0,1000],"nice":false},"axis":{"values":[0,200,400,600,800,1000],"format":"d","labelFlush":false,"title":"t","titlePadding":6}},
"y":{"field":"v","type":"quantitative","scale":{"domain":[0.3,1.3],"nice":false,"zero":false},"axis":{"values":[0.3,0.4,0.5,0.6,0.7,0.8,0.9,1,1.1,1.2,1.3],"labelExpr":"datum.value<0.31?'':format(datum.value,'~g')","title":null}}}},
{"transform":[{"filter":"datum.s=='1'"}],"mark":{"type":"line","strokeWidth":2},
"encoding":{"x":{"field":"t","type":"quantitative","axis":{"orient":"top","values":[0,200,400,600,800,1000],"labels":false,"title":null}},
"y":{"field":"v","type":"quantitative","axis":{"orient":"right","values":[0.3,0.4,0.5,0.6,0.7,0.8,0.9,1,1.1,1.2,1.3],"labels":false,"title":null}}}},
{"transform":[{"filter":"datum.s=='m'"}],"mark":{"type":"line","strokeWidth":1.2},
"encoding":{"x":{"field":"t","type":"quantitative","axis":null},"y":{"field":"v","type":"quantitative","axis":null}}}
],
"resolve":{"axis":{"x":"independent","y":"independent"}}
},
{"width":330,"height":260,"data":{"name":"b"},
"title":{"text":"(b)  Time series for I(t) and ⟨I(t)⟩"},
"encoding":{"color":{"field":"s","type":"nominal","scale":{"domain":["1","2","m"],"range":["#1c1cb0","#ff0000","#44dd44"]},
"legend":{"legendX":7,"legendY":324,"labelOffset":7,"labelExpr":"datum.label=='1'?'I(t) of system (1)':datum.label=='2'?'I(t) of system (2)':'t⁻¹ ∫₀ᵗ I(s) ds'"}}},
"layer":[
{"transform":[{"filter":"datum.s=='2'"}],"mark":{"type":"line","strokeWidth":1},
"encoding":{"x":{"field":"t","type":"quantitative","scale":{"domain":[0,1000],"nice":false},"axis":{"values":[0,200,400,600,800,1000],"format":"d","labelFlush":false,"title":"t","titlePadding":6}},
"y":{"field":"v","type":"quantitative","scale":{"domain":[0,0.7],"nice":false},"axis":{"values":[0,0.1,0.2,0.3,0.4,0.5,0.6,0.7],"format":"~g","title":null}}}},
{"transform":[{"filter":"datum.s=='1'"}],"mark":{"type":"line","strokeWidth":1.3},
"encoding":{"x":{"field":"t","type":"quantitative","axis":{"orient":"top","values":[0,200,400,600,800,1000],"labels":false,"title":null}},
"y":{"field":"v","type":"quantitative","axis":{"orient":"right","values":[0,0.1,0.2,0.3,0.4,0.5,0.6,0.7],"labels":false,"title":null}}}},
{"transform":[{"filter":"datum.s=='m'"}],"mark":{"type":"line","strokeWidth":1.2},
"encoding":{"x":{"field":"t","type":"quantitative","axis":null},"y":{"field":"v","type":"quantitative","axis":null}}}
],
"resolve":{"axis":{"x":"independent","y":"independent"}}
}
],"spacing":51,"bounds":"flush",
"resolve":{"scale":{"color":"independent"},"legend":{"color":"independent"}}},
{"width":331,"height":260,"data":{"name":"c"},
"title":{"text":"(c)  Time series for R(t) and ⟨R(t)⟩","offset":17},
"encoding":{"color":{"field":"s","type":"nominal","scale":{"domain":["1","2","m"],"range":["#2020b8","#f03c3c","#44dd44"]},
"legend":{"legendX":7,"legendY":316,"labelOffset":13,"labelExpr":"datum.label=='1'?'R(t) of system (1)':datum.label=='2'?'R(t) of system (2)':'t⁻¹ ∫₀ᵗ R(s) ds'"}}},
"layer":[
{"transform":[{"filter":"datum.s=='2'"}],"mark":{"type":"line","strokeWidth":1},
"encoding":{"x":{"field":"t","type":"quantitative","scale":{"domain":[0,1000],"nice":false},"axis":{"values":[0,200,400,600,800,1000],"format":"d","labelFlush":false,"title":"t","titlePadding":6}},
"y":{"field":"v","type":"quantitative","scale":{"domain":[0.1,0.45],"nice":false,"zero":false},"axis":{"values":[0.1,0.15,0.2,0.25,0.3,0.35,0.4,0.45],"format":"~g","title":null}}}},
{"transform":[{"filter":"datum.s=='1'"}],"mark":{"type":"line","strokeWidth":1.5},
"encoding":{"x":{"field":"t","type":"quantitative","axis":{"orient":"top","values":[0,200,400,600,800,1000],"labels":false,"title":null}},
"y":{"field":"v","type":"quantitative","axis":{"orient":"right","values":[0.1,0.15,0.2,0.25,0.3,0.35,0.4,0.45],"labels":false,"title":null}}}},
{"transform":[{"filter":"datum.s=='m'"}],"mark":{"type":"line","strokeWidth":1.2},
"encoding":{"x":{"field":"t","type":"quantitative","axis":null},"y":{"field":"v","type":"quantitative","axis":null}}}
],
"resolve":{"axis":{"x":"independent","y":"independent"}}
}
]
}
